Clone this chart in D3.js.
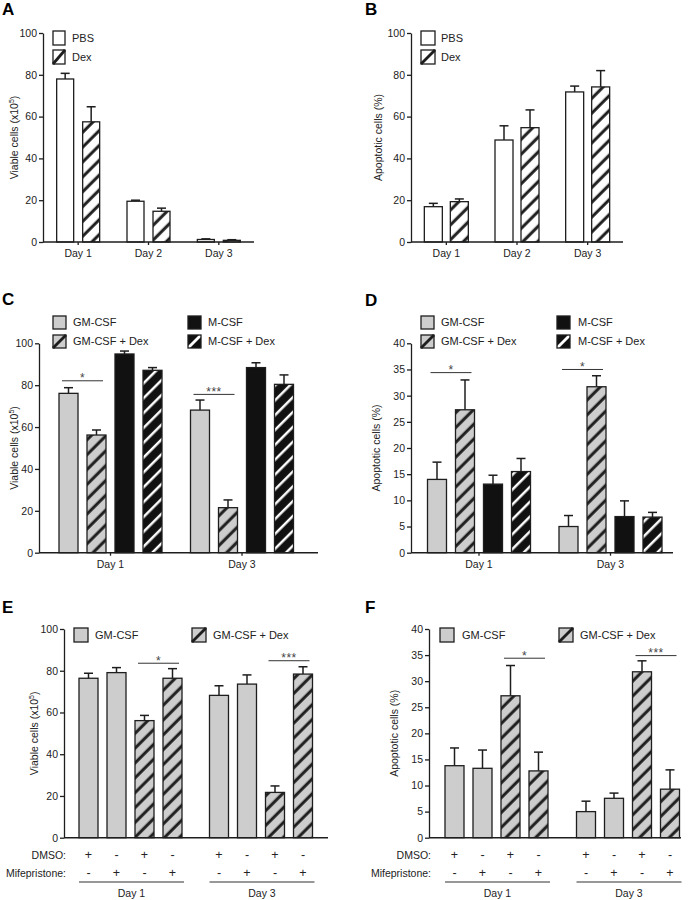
<!DOCTYPE html>
<html>
<head>
<meta charset="utf-8">
<script src="https://cdn.jsdelivr.net/npm/d3@7"></script>
<style>
  body { margin: 0; background: #fff; }
  svg text { font-family: "Liberation Sans", Arial, sans-serif; fill: #222; }
</style>
</head>
<body>
<div id="fig"></div>
<script>
// ---- data ----
const days3 = ["Day 1", "Day 2", "Day 3"];
const days2 = ["Day 1", "Day 3"];

// A: viable cells (x10^5)
const aPBS = [78, 19.5, 1.2];
const aPBSsem = [2.7, 0.5, 0.3];
const aDex = [57.5, 14.7, 0.8];
const aDexSem = [7.2, 1.5, 0.3];

// B: apoptotic cells (%)
const bPBS = [16.9, 48.8, 71.8];
const bPBSsem = [1.6, 6.8, 2.8];
const bDex = [19.3, 54.7, 74.2];
const bDexSem = [1.3, 8.5, 7.8];

// C: viable cells
const cGM = [76.1, 68.1];
const cGMsem = [2.7, 4.8];
const cGMDex = [56.2, 21.5];
const cGMDexSem = [2.4, 3.7];
const cM = [94.9, 88.4];
const cMsem = [1.4, 2.3];
const cMDex = [87.1, 80.4];
const cMDexSem = [1.3, 4.5];

// D: apoptotic cells
const dGM = [14.0, 5.0];
const dGMsem = [3.3, 2.1];
const dGMDex = [27.3, 31.7];
const dGMDexSem = [5.7, 2.1];
const dM = [13.1, 6.9];
const dMsem = [1.7, 3.0];
const dMDex = [15.5, 6.8];
const dMDexSem = [2.5, 0.9];

// E/F: four conditions per day
const condFill = ["gray", "gray", "hatchGray", "hatchGray"];
const dmso = ["+", "-", "+", "-"];
const mife = ["-", "+", "-", "+"];
const eDay1 = [76.4, 79.1, 56.1, 76.4];
const eDay1Sem = [2.4, 2.4, 2.5, 4.6];
const eDay3 = [68.2, 73.6, 21.7, 78.4];
const eDay3Sem = [4.6, 4.4, 3.1, 3.5];
const fDay1 = [13.8, 13.3, 27.2, 12.8];
const fDay1Sem = [3.4, 3.5, 5.8, 3.6];
const fDay3 = [5.0, 7.55, 31.8, 9.3];
const fDay3Sem = [2.0, 1.0, 2.1, 3.7];

// significance bars: [day, first bar, last bar, level, label]
const cSig = [["Day 1", 0, 1, 82.1, "*"], ["Day 3", 0, 1, 75.6, "***"]];
const dSig = [["Day 1", 0, 1, 34.4, "*"], ["Day 3", 0, 1, 35.0, "*"]];
const eSig = [["Day 1", 2, 3, 83.6, "*"], ["Day 3", 2, 3, 84.8, "***"]];
const fSig = [["Day 1", 2, 3, 34.4, "*"], ["Day 3", 2, 3, 34.9, "***"]];

const ticks100 = [0, 20, 40, 60, 80, 100];
const ticks40 = [0, 5, 10, 15, 20, 25, 30, 35, 40];

// ---- canvas ----
const svg = d3.select("#fig").append("svg")
  .attr("width", 696).attr("height", 900);

const INK = "#1e1e1e";
const GRAY = "#cdcdcd";

// stripe patterns
const defs = svg.append("defs");
function stripe(id, bg, fg, w) {
  const p = defs.append("pattern").attr("id", id)
    .attr("patternUnits", "userSpaceOnUse")
    .attr("width", 10.5).attr("height", 10.5)
    .attr("patternTransform", "rotate(45)");
  p.append("rect").attr("width", 10.5).attr("height", 10.5).attr("fill", bg);
  p.append("line").attr("x1", 5).attr("x2", 5).attr("y1", -1).attr("y2", 12)
    .attr("stroke", fg).attr("stroke-width", w);
}
stripe("hatchWhite", "#fff", INK, 3);
stripe("hatchGray", GRAY, INK, 3);
stripe("hatchBlack", "#111", "#fff", 2.5);

const fills = {
  white: { bg: "#fff", fg: null, url: "#fff" },
  hatchWhite: { bg: "#fff", fg: INK, url: "url(#hatchWhite)" },
  gray: { bg: GRAY, fg: null, url: GRAY },
  hatchGray: { bg: GRAY, fg: INK, url: "url(#hatchGray)" },
  black: { bg: "#111", fg: null, url: "#111" },
  hatchBlack: { bg: "#111", fg: "#fff", url: "url(#hatchBlack)" },
};

function panel(cfg) {
  const g = svg.append("g");
  const y = d3.scaleLinear().domain([0, cfg.yMax]).range([cfg.y0, cfg.yTop]);
  const x0 = d3.scaleBand().domain(cfg.groups).range(cfg.band);
  const keys = d3.range(cfg.nBars);
  const pad = 1 - cfg.bw / cfg.step;
  const x1 = d3.scaleBand().domain(keys)
    .range([-cfg.nBars * cfg.step / 2, cfg.nBars * cfg.step / 2])
    .paddingInner(pad).paddingOuter(pad / 2);
  const bx = (grp, k) => x0(grp) + x0.bandwidth() / 2 + x1(k);

  // panel letter
  g.append("text").attr("x", cfg.letterX).attr("y", cfg.letterY)
    .style("font-size", "17px").style("font-weight", "bold").style("fill", "#000")
    .text(cfg.letter);

  // bars
  const rows = [];
  cfg.groups.forEach((grp, gi) => keys.forEach(k => {
    rows.push({ grp, k, v: cfg.value(gi, k), e: cfg.sem(gi, k), fill: cfg.fill(k) });
  }));

  g.selectAll("line.err").data(rows).enter().append("line")
    .attr("x1", d => bx(d.grp, d.k) + x1.bandwidth() / 2)
    .attr("x2", d => bx(d.grp, d.k) + x1.bandwidth() / 2)
    .attr("y1", d => y(d.v)).attr("y2", d => y(d.v + d.e))
    .attr("stroke", INK).attr("stroke-width", 1.5);
  g.selectAll("line.cap").data(rows).enter().append("line")
    .attr("x1", d => bx(d.grp, d.k) + x1.bandwidth() / 2 - 4.5)
    .attr("x2", d => bx(d.grp, d.k) + x1.bandwidth() / 2 + 4.5)
    .attr("y1", d => y(d.v + d.e)).attr("y2", d => y(d.v + d.e))
    .attr("stroke", INK).attr("stroke-width", 1.5);

  g.selectAll("rect.bar").data(rows).enter().append("rect")
    .attr("x", d => bx(d.grp, d.k))
    .attr("y", d => y(d.v))
    .attr("width", x1.bandwidth())
    .attr("height", d => y(0) - y(d.v))
    .attr("fill", d => fills[d.fill].url)
    .attr("stroke", INK).attr("stroke-width", 1.3);

  // y axis
  g.append("g").attr("transform", `translate(${cfg.left},0)`)
    .call(d3.axisLeft(y).tickValues(cfg.ticks).tickSize(4).tickPadding(2).tickSizeOuter(0))
    .call(a => a.selectAll("text").style("font-size", "10.5px").attr("font-family", null))
    .call(a => a.selectAll("line,path").attr("stroke", INK).attr("stroke-width", 1.3));

  // x axis
  const xa = g.append("g").attr("transform", `translate(0,${cfg.y0})`);
  if (cfg.rowLabels) {
    xa.call(d3.axisBottom(x0).tickSize(0).tickFormat(""));
  } else {
    xa.call(d3.axisBottom(x0).tickSize(3).tickPadding(5));
  }
  xa.select(".domain").remove();
  xa.selectAll("text").style("font-size", "10.5px").attr("font-family", null);
  xa.selectAll("line").attr("stroke", INK).attr("stroke-width", 1.3);
  xa.append("line").attr("x1", cfg.left).attr("x2", cfg.right)
    .attr("stroke", INK).attr("stroke-width", 1.5);

  // y label
  const yl = g.append("text")
    .attr("transform", `translate(${cfg.ylabX},${(cfg.y0 + cfg.yTop) / 2}) rotate(-90)`)
    .attr("text-anchor", "middle").style("font-size", "10.5px");
  if (cfg.viable) {
    yl.append("tspan").text("Viable cells (x10");
    yl.append("tspan").attr("dy", -4).style("font-size", "7px").text("5");
    yl.append("tspan").attr("dy", 4).text(")");
  } else {
    yl.text("Apoptotic cells (%)");
  }

  // legend
  cfg.legend.forEach(it => {
    const f = fills[it.fill];
    g.append("rect").attr("x", it.x).attr("y", it.y).attr("width", it.w).attr("height", it.h)
      .attr("fill", f.bg);
    if (f.fg) {
      g.append("line").attr("x1", it.x).attr("y1", it.y + it.h)
        .attr("x2", it.x + it.w).attr("y2", it.y)
        .attr("stroke", f.fg).attr("stroke-width", 2.8);
    }
    g.append("rect").attr("x", it.x).attr("y", it.y).attr("width", it.w).attr("height", it.h)
      .attr("fill", "none").attr("stroke", INK).attr("stroke-width", 1.3);
    g.append("text").attr("x", it.tx).attr("y", it.y + it.h / 2)
      .attr("dy", "0.35em").style("font-size", "11px").text(it.label);
  });

  // significance
  (cfg.sig || []).forEach(([grp, a, b, lvl, lab]) => {
    const xa1 = bx(grp, a) + 3, xb1 = bx(grp, b) + x1.bandwidth() - 3;
    g.append("line").attr("x1", xa1).attr("x2", xb1)
      .attr("y1", y(lvl)).attr("y2", y(lvl))
      .attr("stroke", "#333").attr("stroke-width", 1);
    g.append("text").attr("x", (xa1 + xb1) / 2).attr("y", y(lvl) + 1.5)
      .attr("text-anchor", "middle").style("font-size", "12px").style("fill", "#444")
      .style("letter-spacing", "0.5px")
      .text(lab);
  });

  // row labels (E/F)
  if (cfg.rowLabels) {
    const rl = [["DMSO:", dmso, 855], ["Mifepristone:", mife, 873]];
    rl.forEach(([name, marks, yy]) => {
      g.append("text").attr("x", cfg.left + 2).attr("y", yy).attr("dy", "0.35em")
        .attr("text-anchor", "end").style("font-size", "10.5px").text(name);
      cfg.groups.forEach(grp => keys.forEach(k => {
        g.append("text").attr("x", bx(grp, k) + x1.bandwidth() / 2).attr("y", yy)
          .attr("dy", "0.35em").attr("text-anchor", "middle")
          .style("font-size", "12.5px").text(marks[k]);
      }));
    });
    cfg.groups.forEach(grp => {
      const xs = bx(grp, 0), xe = bx(grp, cfg.nBars - 1) + x1.bandwidth() + 2;
      g.append("line").attr("x1", xs).attr("x2", xe).attr("y1", 882).attr("y2", 882)
        .attr("stroke", "#333").attr("stroke-width", 1.2);
      g.append("text").attr("x", (xs + xe) / 2).attr("y", 897)
        .attr("text-anchor", "middle").style("font-size", "10.5px").text(grp);
    });
  }
}

const twoSeries = (a, b) => (gi, k) => [a, b][k][gi];
const fourSeries = (a, b, c, d) => (gi, k) => [a, b, c, d][k][gi];

// A
panel({
  letter: "A", letterX: 2, letterY: 15,
  left: 43, right: 254, band: [43, 254], y0: 242, yTop: 33, yMax: 100, ticks: ticks100,
  groups: days3, nBars: 2, step: 26, bw: 17, ylabX: 18, viable: true,
  value: twoSeries(aPBS, aDex), sem: twoSeries(aPBSsem, aDexSem),
  fill: k => ["white", "hatchWhite"][k],
  legend: [
    { x: 53, y: 31, w: 12, h: 14, tx: 72, fill: "white", label: "PBS" },
    { x: 53, y: 50, w: 12, h: 14, tx: 72, fill: "hatchWhite", label: "Dex" },
  ],
});

// B
panel({
  letter: "B", letterX: 365, letterY: 15,
  left: 411, right: 623, band: [411, 623], y0: 242, yTop: 33, yMax: 100, ticks: ticks100,
  groups: days3, nBars: 2, step: 26, bw: 18, ylabX: 382, viable: false,
  value: twoSeries(bPBS, bDex), sem: twoSeries(bPBSsem, bDexSem),
  fill: k => ["white", "hatchWhite"][k],
  legend: [
    { x: 421, y: 31, w: 14, h: 14, tx: 441, fill: "white", label: "PBS" },
    { x: 421, y: 50, w: 14, h: 14, tx: 441, fill: "hatchWhite", label: "Dex" },
  ],
});

const legendCD = (c1, t1, c2, t2) => [
  { x: c1, y: 316, w: 13, h: 13, tx: t1, fill: "gray", label: "GM-CSF" },
  { x: c1, y: 335, w: 13, h: 13, tx: t1, fill: "hatchGray", label: "GM-CSF + Dex" },
  { x: c2, y: 316, w: 13, h: 13, tx: t2, fill: "black", label: "M-CSF" },
  { x: c2, y: 335, w: 13, h: 13, tx: t2, fill: "hatchBlack", label: "M-CSF + Dex" },
];
const fillCD = k => ["gray", "hatchGray", "black", "hatchBlack"][k];

// C
panel({
  letter: "C", letterX: 2, letterY: 305,
  left: 39, right: 318, band: [44.75, 307.75], y0: 552.7, yTop: 343.3, yMax: 100, ticks: ticks100,
  groups: days2, nBars: 4, step: 28, bw: 19, ylabX: 18, viable: true,
  value: fourSeries(cGM, cGMDex, cM, cMDex), sem: fourSeries(cGMsem, cGMDexSem, cMsem, cMDexSem),
  fill: fillCD, legend: legendCD(53, 73, 188, 208), sig: cSig,
});

// D
panel({
  letter: "D", letterX: 365, letterY: 306,
  left: 411, right: 673, band: [413.25, 676.25], y0: 552.7, yTop: 343.3, yMax: 40, ticks: ticks40,
  groups: days2, nBars: 4, step: 28, bw: 19, ylabX: 380, viable: false,
  value: fourSeries(dGM, dGMDex, dM, dMDex), sem: fourSeries(dGMsem, dGMDexSem, dMsem, dMDexSem),
  fill: fillCD, legend: legendCD(421, 441, 557, 578), sig: dSig,
});

const legendEF = (c1, t1, c2, t2) => [
  { x: c1, y: 628, w: 14, h: 14, tx: t1, fill: "gray", label: "GM-CSF" },
  { x: c2, y: 628, w: 14, h: 14, tx: t2, fill: "hatchGray", label: "GM-CSF + Dex" },
];

// E
panel({
  letter: "E", letterX: 2, letterY: 613,
  left: 64, right: 328, band: [65.25, 326.25], y0: 837.7, yTop: 629, yMax: 100, ticks: ticks100,
  groups: days2, nBars: 4, step: 28, bw: 19, ylabX: 38, viable: true,
  value: (gi, k) => [eDay1, eDay3][gi][k], sem: (gi, k) => [eDay1Sem, eDay3Sem][gi][k],
  fill: k => condFill[k], legend: legendEF(74, 95, 192, 213), sig: eSig, rowLabels: true,
});

// F
panel({
  letter: "F", letterX: 365, letterY: 613,
  left: 429, right: 681, band: [430.75, 693.75], y0: 837.7, yTop: 629, yMax: 40, ticks: ticks40,
  groups: days2, nBars: 4, step: 28, bw: 19, ylabX: 398, viable: false,
  value: (gi, k) => [fDay1, fDay3][gi][k], sem: (gi, k) => [fDay1Sem, fDay3Sem][gi][k],
  fill: k => condFill[k], legend: legendEF(440, 462, 559, 580), sig: fSig, rowLabels: true,
});
</script>
</body>
</html>
